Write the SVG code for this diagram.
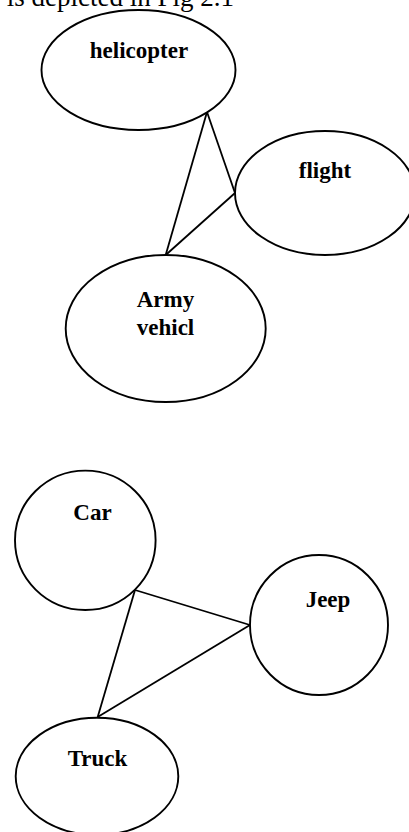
<svg xmlns="http://www.w3.org/2000/svg" width="409" height="832" viewBox="0 0 409 832">
  <style>
    .node { fill: #fff; stroke: #000; stroke-width: 1.9; }
    .edge { stroke: #000; stroke-width: 1.8; fill: none; }
    .lbl { font-family: "Liberation Serif", "Times New Roman", serif; font-weight: bold; font-size: 23px; fill: #000; text-anchor: middle; }
    .caption { font-family: "Liberation Serif", "Times New Roman", serif; font-size: 27px; fill: #000; text-anchor: end; }
  </style>
  <rect width="409" height="832" fill="#fff"/>

  <!-- running text line above the figure -->
  <text class="caption" x="234" y="6">r is depicted in Fig 2.1</text>

  <!-- connectors -->
  <g id="edges">
    <line class="edge" x1="207" y1="112" x2="165.7" y2="255"/>
    <line class="edge" x1="207" y1="112" x2="235" y2="193"/>
    <line class="edge" x1="235" y1="193" x2="165.7" y2="255"/>
    <line class="edge" x1="135" y1="590" x2="250" y2="625"/>
    <line class="edge" x1="135" y1="590" x2="97.7" y2="717"/>
    <line class="edge" x1="97.7" y1="717" x2="250" y2="625"/>
  </g>

  <!-- upper cluster -->
  <g id="helicopter">
    <ellipse class="node" cx="138.5" cy="70" rx="97" ry="60"/>
    <text class="lbl" x="139" y="57.5">helicopter</text>
  </g>
  <g id="flight">
    <ellipse class="node" cx="325" cy="193" rx="90" ry="62"/>
    <text class="lbl" x="325" y="178">flight</text>
  </g>
  <g id="army-vehicl">
    <ellipse class="node" cx="165.7" cy="328.5" rx="100" ry="73.5"/>
    <text class="lbl" x="165.5" y="306.5">Army</text>
    <text class="lbl" x="165.5" y="334.5">vehicl</text>
  </g>

  <!-- lower cluster -->
  <g id="car">
    <ellipse class="node" cx="85.3" cy="540.3" rx="70.3" ry="69.7"/>
    <text class="lbl" x="92.5" y="520">Car</text>
  </g>
  <g id="jeep">
    <ellipse class="node" cx="319" cy="625" rx="69" ry="70"/>
    <text class="lbl" x="328" y="606.5">Jeep</text>
  </g>
  <g id="truck">
    <ellipse class="node" cx="97" cy="776.3" rx="81.3" ry="58.6"/>
    <text class="lbl" x="97.5" y="765.5">Truck</text>
  </g>
</svg>
